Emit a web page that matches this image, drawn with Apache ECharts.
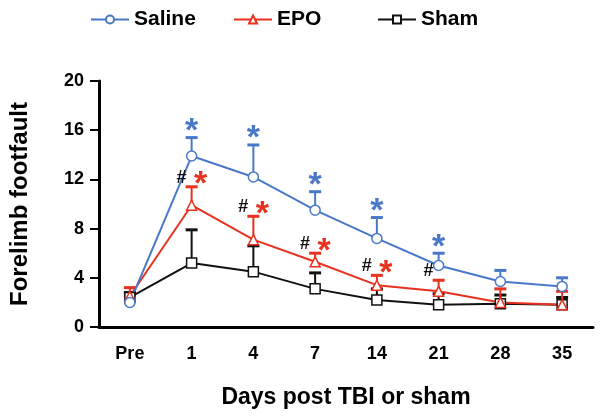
<!DOCTYPE html>
<html>
<head>
<meta charset="utf-8">
<script src="https://cdn.jsdelivr.net/npm/echarts@6/dist/echarts.min.js"></script>
<style>html,body{margin:0;padding:0;background:#fff}#c{width:600px;height:420px}</style>
</head>
<body>
<div id="c"></div>
<script>
const categories = ['Pre', '1', '4', '7', '14', '21', '28', '35'];
const yTicks = [0, 4, 8, 12, 16, 20];
const salineMean  = [2.0, 13.9, 12.2, 9.5, 7.2, 5.0, 3.7, 3.3];
const salineUpper = [2.6, 15.4, 14.8, 11.0, 8.9, 6.0, 4.6, 4.0];
const epoMean     = [2.5, 9.9, 7.1, 5.3, 3.4, 2.9, 2.0, 1.8];
const epoUpper    = [3.2, 11.4, 9.0, 6.0, 4.2, 3.8, 3.1, 2.9];
const shamMean    = [2.4, 5.2, 4.5, 3.1, 2.2, 1.8, 1.9, 1.8];
const shamUpper   = [2.8, 7.9, 6.6, 4.4, 3.1, 2.7, 2.6, 2.4];
// significance markers (category indices)
const salineStarIdx = [1, 2, 3, 4, 5];
const epoStarIdx = [1, 2, 3, 4];
const hashIdx = [1, 2, 3, 4, 5];

const BLUE = '#4a78c8', RED = '#e8311e', BLACK = '#111111';
const FONT = 'Liberation Sans';

function errData(mean, upper) { return mean.map((m, i) => [i, m, upper[i]]); }
function errSeries(name, mean, upper, color, z) {
  return {
    type: 'custom', name: name + ' err', z: z, silent: true,
    data: errData(mean, upper),
    renderItem: function (params, api) {
      const p0 = api.coord([api.value(0), api.value(1)]);
      const p1 = api.coord([api.value(0), api.value(2)]);
      return { type: 'group', children: [
        { type: 'line', shape: { x1: p0[0], y1: p0[1], x2: p1[0], y2: p1[1] }, style: { stroke: color, lineWidth: 2 } },
        { type: 'line', shape: { x1: p1[0] - 6, y1: p1[1], x2: p1[0] + 6, y2: p1[1] }, style: { stroke: color, lineWidth: 3 } }
      ]};
    }
  };
}
function markSeries(idxs, upper, text, color, dx, dy, size) {
  return {
    type: 'custom', silent: true, z: 10,
    data: idxs.map(i => [i, upper[i]]),
    renderItem: function (params, api) {
      const p = api.coord([api.value(0), api.value(1)]);
      return { type: 'text', x: p[0] + dx, y: p[1] + dy,
        style: { text: text, fill: color, font: 'bold ' + size + 'px ' + FONT, align: 'center', verticalAlign: 'middle' } };
    }
  };
}
function lineSeries(name, data, color, symbol) {
  return {
    type: 'line', name: name, data: data, z: 5,
    symbol: symbol, symbolSize: 10, showAllSymbol: true,
    lineStyle: { color: color, width: 2 },
    itemStyle: { color: '#fff', borderColor: color, borderWidth: 1.5 },
    emphasis: { disabled: true }
  };
}
function legendFor(name, left) {
  return {
    data: [name], left: left, top: 4, itemWidth: 38, itemHeight: 10, itemGap: 12,
    textStyle: { fontFamily: FONT, fontWeight: 'bold', fontSize: 21, color: '#000' }
  };
}

const chart = echarts.init(document.getElementById('c'), null, { renderer: 'canvas' });
chart.setOption({
  animation: false,
  backgroundColor: '#fff',
  legend: [legendFor('Saline', 85), legendFor('EPO', 228), legendFor('Sham', 372)],
  grid: { left: 97, right: 7, top: 81, bottom: 93 },
  xAxis: {
    type: 'category', data: categories, boundaryGap: true,
    name: 'Days post TBI or sham', nameLocation: 'middle', nameGap: 59,
    nameTextStyle: { fontFamily: FONT, fontWeight: 'bold', fontSize: 23, color: '#000' },
    axisLine: { lineStyle: { color: '#000', width: 3 } },
    axisTick: { alignWithLabel: true, length: 9, lineStyle: { color: '#000', width: 2 } },
    axisLabel: { margin: 18, fontFamily: FONT, fontWeight: 'bold', fontSize: 18, color: '#000' }
  },
  yAxis: {
    type: 'value', min: yTicks[0], max: yTicks[yTicks.length - 1], interval: yTicks[1] - yTicks[0],
    name: 'Forelimb footfault', nameLocation: 'middle', nameGap: 67,
    nameTextStyle: { fontFamily: FONT, fontWeight: 'bold', fontSize: 24, color: '#000' },
    splitLine: { show: false },
    axisLine: { show: true, lineStyle: { color: '#000', width: 3 } },
    axisTick: { show: true, length: 9, lineStyle: { color: '#000', width: 2 } },
    axisLabel: { margin: 15, fontFamily: FONT, fontWeight: 'bold', fontSize: 18, color: '#000' }
  },
  series: [
    errSeries('Sham', shamMean, shamUpper, BLACK, 2),
    errSeries('EPO', epoMean, epoUpper, RED, 3),
    errSeries('Saline', salineMean, salineUpper, BLUE, 4),
    lineSeries('Sham', shamMean, BLACK, 'rect'),
    lineSeries('EPO', epoMean, RED, 'triangle'),
    lineSeries('Saline', salineMean, BLUE, 'circle'),
    markSeries(salineStarIdx, salineUpper, '*', BLUE, 0, -6, 34),
    markSeries(epoStarIdx, epoUpper, '*', RED, 9, -2, 34),
    markSeries(hashIdx, epoUpper, '#', BLACK, -10, -9, 18)
  ]
});
</script>
</body>
</html>
